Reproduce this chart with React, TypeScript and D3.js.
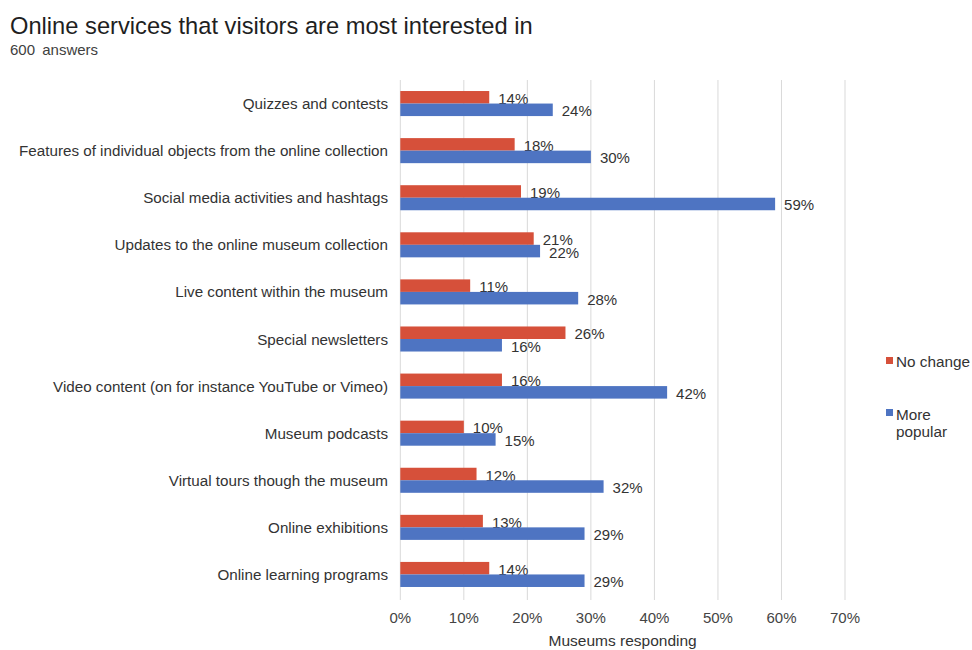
import React from "react";
import * as d3 from "d3";

const categories = [
  "Quizzes and contests",
  "Features of individual objects from the online collection",
  "Social media activities and hashtags",
  "Updates to the online museum collection",
  "Live content within the museum",
  "Special newsletters",
  "Video content (on for instance YouTube or Vimeo)",
  "Museum podcasts",
  "Virtual tours though the museum",
  "Online exhibitions",
  "Online learning programs",
];
const noChange = [14, 18, 19, 21, 11, 26, 16, 10, 12, 13, 14];
const morePopular = [24, 30, 59, 22, 28, 16, 42, 15, 32, 29, 29];
const seriesNames = ["No change", "More popular"];
const xTicks = [0, 10, 20, 30, 40, 50, 60, 70];

const title = "Online services that visitors are most interested in";
const subtitle = "600 answers";
const xAxisTitle = "Museums responding";

const RED = "#D6503A";
const BLUE = "#4E74C2";
const FONT = "'Liberation Sans', Arial, Helvetica, sans-serif";

export default function App() {
  const W = 972;
  const H = 650;
  const x = d3.scaleLinear().domain([0, 70]).range([400.3, 845]);
  const y = d3.scaleBand<string>().domain(categories).range([80, 598]).padding(0);
  const sub = d3
    .scaleBand<string>()
    .domain(seriesNames)
    .range([0, y.bandwidth()])
    .paddingInner(0)
    .paddingOuter(0.88);
  const colors = [RED, BLUE];
  const seriesVals = [noChange, morePopular];

  return (
    <svg
      width={W}
      height={H}
      style={{ position: "absolute", left: 0, top: 0, background: "#fff" }}
      fontFamily={FONT}
    >
      <rect x={0} y={0} width={W} height={H} fill="#fff" />
      <text x={10} y={34} fontSize={23.7} fill="#1f1f1f">
        {title}
      </text>
      <text x={10} y={55} fontSize={15} wordSpacing={3} fill="#404040">
        {subtitle}
      </text>

      {xTicks.map((t) => (
        <line
          key={"g" + t}
          x1={x(t)}
          x2={x(t)}
          y1={80}
          y2={600}
          stroke="#d9d9d9"
          strokeWidth={1}
        />
      ))}

      {categories.map((c, i) => (
        <g key={c}>
          <text
            x={388}
            y={(y(c) as number) + y.bandwidth() / 2}
            textAnchor="end"
            dominantBaseline="central"
            fontSize={15.2}
            fill="#333"
          >
            {c}
          </text>
          {seriesNames.map((s, si) => {
            const v = seriesVals[si][i];
            const by = (y(c) as number) + (sub(s) as number);
            return (
              <g key={s}>
                <rect
                  x={x(0)}
                  y={by}
                  width={x(v) - x(0)}
                  height={sub.bandwidth()}
                  fill={colors[si]}
                />
                <text
                  x={x(v) + 9}
                  y={by + sub.bandwidth() / 2 + 1}
                  dominantBaseline="central"
                  fontSize={15}
                  fill="#333"
                >
                  {v + "%"}
                </text>
              </g>
            );
          })}
        </g>
      ))}

      {xTicks.map((t) => (
        <text
          key={"t" + t}
          x={x(t)}
          y={623}
          textAnchor="middle"
          fontSize={15}
          fill="#444"
        >
          {t + "%"}
        </text>
      ))}
      <text
        x={(x(0) + x(70)) / 2}
        y={646}
        textAnchor="middle"
        fontSize={15.5}
        fill="#333"
      >
        {xAxisTitle}
      </text>

      <rect x={886} y={357} width={7} height={7} fill={RED} />
      <text x={896} y={367} fontSize={15.3} fill="#333">
        {seriesNames[0]}
      </text>
      <rect x={886} y={409} width={7} height={7} fill={BLUE} />
      <text x={896} y={420} fontSize={15.3} fill="#333">
        More
      </text>
      <text x={896} y={437} fontSize={15.3} fill="#333">
        popular
      </text>
    </svg>
  );
}
